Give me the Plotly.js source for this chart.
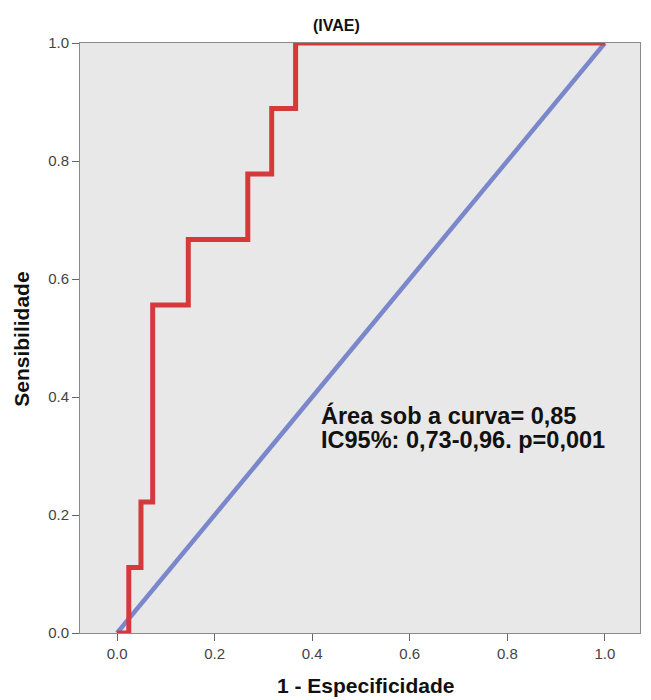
<!DOCTYPE html>
<html>
<head>
<meta charset="utf-8">
<script src="https://cdn.plot.ly/plotly-3.0.1.min.js"></script>
<style>html,body{margin:0;padding:0;background:#fff;}#chart{width:651px;height:700px;}</style>
</head>
<body>
<div id="chart"></div>
<script>
// ROC curve points (1 - specificity, sensitivity)
const rocFPR = [0, 0.024, 0.049, 0.073, 0.146, 0.268, 0.317, 0.366, 1.0];
const rocTPR = [0, 0.111, 0.222, 0.556, 0.667, 0.778, 0.889, 1.0, 1.0];
// reference diagonal
const refX = [0, 1];
const refY = [0, 1];
const tickVals = [0, 0.2, 0.4, 0.6, 0.8, 1.0];
const tickText = ["0.0", "0.2", "0.4", "0.6", "0.8", "1.0"];
const titleText = "(IVAE)";
const xTitle = "1 - Especificidade";
const yTitle = "Sensibilidade";
const noteLines = ["Área sob a curva= 0,85", "IC95%: 0,73-0,96. p=0,001"];

const FONT = 'Liberation Sans, Arial, sans-serif';

const traces = [
  {x: refX, y: refY, mode: 'lines', line: {color: '#7b87cb', width: 4.5}, hoverinfo: 'skip', cliponaxis: false},
  {x: rocFPR, y: rocTPR, mode: 'lines', line: {color: '#d43a3c', width: 5, shape: 'hv'}, cliponaxis: false}
];

const layout = {
  width: 651, height: 700,
  margin: {l: 80, r: 11, t: 43, b: 67},
  paper_bgcolor: '#ffffff',
  plot_bgcolor: '#e8e8e8',
  showlegend: false,
  font: {family: FONT, color: '#222'},
  xaxis: {
    range: [-0.076, 1.072], tickvals: tickVals, ticktext: tickText,
    showgrid: false, zeroline: false, showline: true, linecolor: '#8a8a8a', linewidth: 1, mirror: true,
    ticks: 'outside', ticklen: 7, tickcolor: '#666',
    tickfont: {size: 15, color: '#444', family: FONT}
  },
  yaxis: {
    range: [0, 1], tickvals: tickVals, ticktext: tickText,
    showgrid: false, zeroline: false, showline: true, linecolor: '#8a8a8a', linewidth: 1, mirror: true,
    ticks: 'outside', ticklen: 7, tickcolor: '#666',
    tickfont: {size: 15, color: '#444', family: FONT}
  },
  annotations: [
    {text: '<b>' + titleText + '</b>', xref: 'x', yref: 'paper', x: 0.449, y: 1, yshift: 18,
     xanchor: 'center', yanchor: 'middle', showarrow: false, font: {size: 16, color: '#111'}},
    {text: '<b>' + xTitle + '</b>', xref: 'x', yref: 'paper', x: 0.51, y: 0, yshift: -52,
     xanchor: 'center', yanchor: 'middle', showarrow: false, font: {size: 21, color: '#111'}},
    {text: '<b>' + yTitle + '</b>', xref: 'paper', yref: 'y', x: 0, xshift: -58, y: 0.497,
     xanchor: 'center', yanchor: 'middle', textangle: -90, showarrow: false, font: {size: 21, color: '#111'}},
    {text: '<b>' + noteLines[0] + '</b>', xref: 'x', yref: 'y', x: 0.414, y: 0.3695,
     xanchor: 'left', yanchor: 'middle', align: 'left', showarrow: false, font: {size: 23.5, color: '#111'}},
    {text: '<b>' + noteLines[1] + '</b>', xref: 'x', yref: 'y', x: 0.414, y: 0.327,
     xanchor: 'left', yanchor: 'middle', align: 'left', showarrow: false, font: {size: 23.5, color: '#111'}}
  ]
};

Plotly.newPlot('chart', traces, layout, {displayModeBar: false, staticPlot: true});
</script>
</body>
</html>
